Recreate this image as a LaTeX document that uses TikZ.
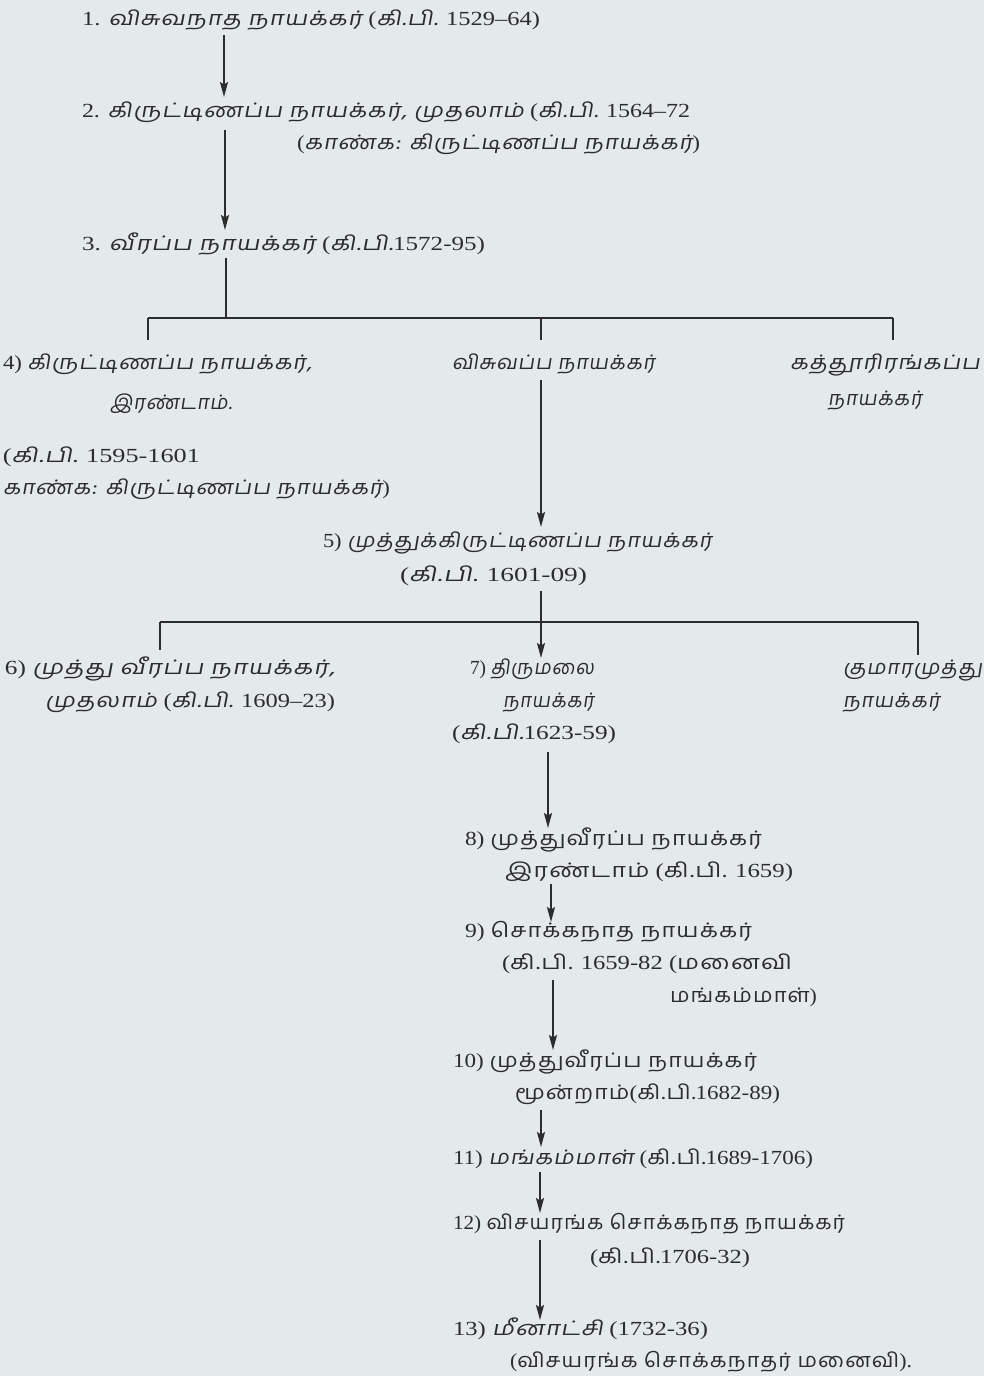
\documentclass[tikz,border=0pt]{standalone}
\usepackage{fontspec}
\usepackage{graphicx}
\usetikzlibrary{arrows.meta}
\setmainfont{Liberation Serif}
\newfontfamily\tamfont[Script=Tamil,LetterSpace=5]{Hind Madurai}
\newfontfamily\tamslfont[Script=Tamil,FakeSlant=0.15,LetterSpace=4]{Hind Madurai}
\newcommand{\tx}[1]{{\tamfont #1}}
\newcommand{\txs}[1]{{\tamslfont #1}}
\newcommand{\fw}[2]{\resizebox{#1pt}{\height}{#2}}
\definecolor{bgc}{HTML}{E4E9EC}
\definecolor{ink}{HTML}{2C2C2C}
\tikzset{
  lbl/.style={anchor=base west, inner sep=0pt, outer sep=0pt, text=ink, font=\fontsize{20}{22}\selectfont},
  arr/.style={draw=ink, line width=1.7pt, -{Stealth[length=15pt,width=8pt,inset=2.5pt]}},
  ln/.style={draw=ink, line width=1.7pt},
}
\begin{document}
\begin{tikzpicture}[x=1pt,y=-1pt]
\fill[bgc] (0,0) rectangle (984,1376);
\useasboundingbox (0,0) rectangle (984,1376);

% x positions of vertical connectors
\coordinate (X1) at (224,0);
\coordinate (X2) at (225,0);
\coordinate (X3) at (226,0);
\coordinate (XL) at (148,0);
\coordinate (XM) at (541,0);
\coordinate (XR) at (893,0);
\coordinate (XL2) at (160,0);
\coordinate (XR2) at (918,0);
\coordinate (X7) at (548,0);
\coordinate (X8) at (551,0);
\coordinate (X9) at (553,0);
\coordinate (X10) at (541,0);
\coordinate (X11) at (540,0);

\node[lbl] (L1) at (82,25) {\fw{458}{1. \txs{விசுவநாத நாயக்கர்} (\txs{கி.பி.} 1529–64)}};
\node[lbl] (L2a) at (82,117) {\fw{608}{2. \txs{கிருட்டிணப்ப நாயக்கர், முதலாம்} (\txs{கி.பி.} 1564–72}};
\node[lbl] (L2b) at (297,149) {\fw{403}{(\txs{காண்க: கிருட்டிணப்ப நாயக்கர்})}};
\node[lbl] (L3) at (82,250) {\fw{403}{3. \txs{வீரப்ப நாயக்கர்} (\txs{கி.பி.}1572-95)}};

\node[lbl] (L4a) at (3,369) {\fw{309}{4) \txs{கிருட்டிணப்ப நாயக்கர்,}}};
\node[lbl] (L4b) at (110,409) {\fw{122}{\txs{இரண்டாம்.}}};
\node[lbl] (L4c) at (3,462) {\fw{197}{(\txs{கி.பி.} 1595-1601}};
\node[lbl] (L4d) at (3,494) {\fw{387}{\txs{காண்க: கிருட்டிணப்ப நாயக்கர்})}};
\node[lbl] (V) at (452,369) {\fw{203}{\txs{விசுவப்ப நாயக்கர்}}};
\node[lbl] (K1) at (790,369) {\fw{190}{\txs{கத்தூரிரங்கப்ப}}};
\node[lbl] (K2) at (828,405) {\fw{94}{\txs{நாயக்கர்}}};

\node[lbl] (L5a) at (323,547) {\fw{389}{5) \txs{முத்துக்கிருட்டிணப்ப நாயக்கர்}}};
\node[lbl] (L5b) at (400,581) {\fw{187}{(\txs{கி.பி.} 1601-09)}};

\node[lbl] (L6a) at (5,674) {\fw{330}{6) \txs{முத்து வீரப்ப நாயக்கர்,}}};
\node[lbl] (L6b) at (45,707) {\fw{290}{\txs{முதலாம்} (\txs{கி.பி.} 1609–23)}};
\node[lbl] (L7a) at (470,674) {\fw{124}{7) \txs{திருமலை}}};
\node[lbl] (L7b) at (503,707) {\fw{91}{\txs{நாயக்கர்}}};
\node[lbl] (L7c) at (452,739) {\fw{164}{(\txs{கி.பி.}1623-59)}};
\node[lbl] (KM1) at (843,674) {\fw{139}{\txs{குமாரமுத்து}}};
\node[lbl] (KM2) at (843,707) {\fw{97}{\txs{நாயக்கர்}}};

\node[lbl] (L8a) at (465,845) {\fw{297}{8) \tx{முத்துவீரப்ப நாயக்கர்}}};
\node[lbl] (L8b) at (505,877) {\fw{288}{\tx{இரண்டாம்} (\tx{கி.பி.} 1659)}};
\node[lbl] (L9a) at (465,937) {\fw{287}{9) \tx{சொக்கநாத நாயக்கர்}}};
\node[lbl] (L9b) at (502,969) {\fw{290}{(\tx{கி.பி.} 1659-82 (\tx{மனைவி}}};
\node[lbl] (L9c) at (670,1002) {\fw{147}{\tx{மங்கம்மாள்})}};
\node[lbl] (L10a) at (453,1067) {\fw{304}{10) \tx{முத்துவீரப்ப நாயக்கர்}}};
\node[lbl] (L10b) at (515,1099) {\fw{265}{\tx{மூன்றாம்}(\tx{கி.பி.}1682-89)}};
\node[lbl] (L11) at (453,1164) {\fw{360}{11) \txs{மங்கம்மாள்} (\tx{கி.பி.}1689-1706)}};
\node[lbl] (L12a) at (453,1229) {\fw{392}{12) \tx{விசயரங்க சொக்கநாத நாயக்கர்}}};
\node[lbl] (L12b) at (590,1263) {\fw{160}{(\tx{கி.பி.}1706-32)}};
\node[lbl] (L13a) at (453,1335) {\fw{255}{13) \txs{மீனாட்சி} (1732-36)}};
\node[lbl] (L13b) at (510,1367) {\fw{402}{(\tx{விசயரங்க சொக்கநாதர் மனைவி}).}};

% connectors
\draw[arr] ([yshift=-10pt]L1.base -| X1) -- ([yshift=20pt]L2a.base -| X1);
\draw[arr] ([yshift=-13pt]L2a.base -| X2) -- ([yshift=20pt]L3.base -| X2);
\coordinate (B1) at (226,318);
\draw[ln] ([yshift=-8pt]L3.base -| X3) -- (B1);
\draw[ln] (148,318) coordinate (B1L) -- (893,318) coordinate (B1R);
\draw[ln] (B1L) -- ([yshift=29pt]L4a.base -| XL);
\draw[ln] (B1 -| XM) -- ([yshift=29pt]V.base -| XM);
\draw[ln] (B1R) -- ([yshift=29pt]K1.base -| XR);
\draw[arr] ([yshift=-11pt]V.base -| XM) -- ([yshift=20pt]L5a.base -| XM);

\coordinate (B2) at (541,622);
\draw[ln] ([yshift=-10pt]L5b.base -| XM) -- (B2);
\draw[ln] (160,622) coordinate (B2L) -- (918,622) coordinate (B2R);
\draw[ln] (B2L) -- ([yshift=24pt]L6a.base -| XL2);
\draw[ln] (B2R) -- ([yshift=19pt]KM1.base -| XR2);
\draw[arr] (B2) -- ([yshift=16pt]L7a.base -| XM);

\draw[arr] ([yshift=-13pt]L7c.base -| X7) -- ([yshift=17pt]L8a.base -| X7);
\draw[arr] ([yshift=-7pt]L8b.base -| X8) -- ([yshift=15pt]L9a.base -| X8);
\draw[arr] ([yshift=-11pt]L9b.base -| X9) -- ([yshift=17pt]L10a.base -| X9);
\draw[arr] ([yshift=-11pt]L10b.base -| X10) -- ([yshift=17pt]L11.base -| X10);
\draw[arr] ([yshift=-8pt]L11.base -| X11) -- ([yshift=16pt]L12a.base -| X11);
\draw[arr] ([yshift=-11pt]L12a.base -| X11) -- ([yshift=15pt]L13a.base -| X11);
\end{tikzpicture}
\end{document}
